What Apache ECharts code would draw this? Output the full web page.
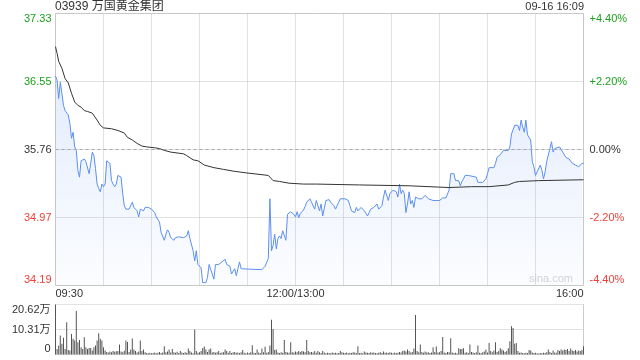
<!DOCTYPE html>
<html><head><meta charset="utf-8">
<script src="https://cdn.jsdelivr.net/npm/echarts@6/dist/echarts.min.js"></script>
<style>html,body{margin:0;padding:0;background:#fff}#c{width:640px;height:360px}</style>
</head><body><div id="c"></div>
<script>
const stockTitle = '03939 万国黄金集团';
const stampText = '09-16 16:09';
const watermark = 'sina.com';
const prevClose = 35.76;
const pctMin = -4.4, pctMax = 4.4, pctStep = 2.2;
const tradeMinutes = 330;
const timeTickMin = [0, 150, 330];
const timeTickLabels = ['09:30', '12:00/13:00', '16:00'];
const volMax = 20.62;

// trading-minute offsets from 09:30 (lunch break removed) and prices
const priceMin = [0,1,2,3,4,5,6,7,8,9,10,11,12,13,14,15,16,17,18,19,20,21,22,23,24,25,26,27,28,29,30,31,32,33,34,35,36,37,38,39,40,41,42,43,44,45,46,47,48,49,50,51,52,53,54,55,56,57,58,59,60,61,62,63,64,65,66,67,68,69,70,71,72,73,74,75,76,77,78,80,82,83,84,85,86,87,88,89,90,91,92,93,94,95,96,97,99,100,101,102,103,104,105,106,107,108,109,110,111,112,113,114,115,116,117,129,131,132,133,134,135,136,137,138,139,140,141,142,143,144,145,146,147,148,149,150,151,152,153,154,155,156,157,158,159,160,161,162,163,164,165,166,167,168,169,170,171,172,173,174,175,176,177,178,179,181,183,184,185,186,187,188,189,190,191,192,193,194,195,196,197,198,199,200,201,202,203,204,205,206,208,209,210,211,212,213,214,215,216,217,218,219,220,221,222,223,224,225,226,227,228,229,230,231,232,233,234,236,237,238,239,240,242,244,245,246,247,248,249,250,251,252,253,254,255,256,257,258,259,263,264,267,268,269,270,271,274,275,276,277,278,279,280,283,284,285,286,287,288,289,290,291,292,293,294,295,296,297,298,299,300,301,302,303,304,305,306,307,308,309,310,311,312,313,315,316,317,318,319,320,321,322,323,324,325,326,327,328,329,330];
const priceVal = [36.61,36.56,36.35,36.54,36.41,36.27,36.21,36.23,36.16,36.06,35.89,35.96,35.79,35.75,35.52,35.44,35.63,35.62,35.65,35.62,35.60,35.48,35.60,35.73,35.69,35.54,35.36,35.31,35.27,35.36,35.33,35.36,35.63,35.62,35.60,35.40,35.36,35.33,35.36,35.46,35.48,35.44,35.25,35.11,35.07,35.09,35.07,35.09,35.15,35.09,35.07,35.05,34.98,35.07,35.06,35.05,35.09,35.07,35.09,35.10,35.07,35.05,35.03,34.98,34.96,34.92,34.80,34.78,34.71,34.78,34.83,34.80,34.74,34.76,34.71,34.74,34.74,34.75,34.73,34.74,34.76,34.82,34.73,34.71,34.59,34.47,34.59,34.43,34.41,34.39,34.22,34.22,34.22,34.28,34.43,34.43,34.26,34.43,34.41,34.43,34.44,34.46,34.47,34.49,34.43,34.43,34.41,34.32,34.30,34.38,34.30,34.38,34.46,34.38,34.37,34.37,34.41,34.43,34.50,35.19,34.59,34.65,34.78,34.61,34.73,34.76,34.73,34.82,34.82,34.71,35.01,35.02,35.04,35.04,35.01,34.98,35.04,34.97,35.02,35.04,35.06,35.10,35.15,35.13,35.19,35.15,35.17,35.07,35.17,35.11,35.05,35.13,34.99,34.98,35.17,35.19,35.18,35.15,35.13,35.11,35.07,35.11,35.15,35.19,35.19,35.19,35.17,35.11,35.05,35.07,35.03,35.09,35.05,35.07,35.09,35.07,35.05,35.07,34.99,35.03,35.07,35.07,35.09,35.09,35.13,35.07,35.05,35.11,35.21,35.29,35.17,35.25,35.23,35.29,35.29,35.27,35.21,35.36,35.25,35.29,35.25,35.03,35.13,35.27,35.13,35.17,35.09,35.21,35.21,35.19,35.21,35.19,35.21,35.23,35.21,35.19,35.21,35.17,35.19,35.17,35.19,35.17,35.20,35.20,35.22,35.29,35.48,35.48,35.48,35.40,35.39,35.40,35.34,35.39,35.42,35.46,35.48,35.46,35.44,35.44,35.38,35.38,35.40,35.42,35.48,35.55,35.55,35.60,35.67,35.67,35.70,35.71,35.75,35.75,35.79,35.94,35.96,36.04,36.05,36.04,35.98,36.10,36.02,35.96,36.10,35.93,35.91,35.87,35.62,35.56,35.46,35.50,35.52,35.58,35.52,35.42,35.50,35.62,35.60,35.77,35.85,35.73,35.77,35.79,35.79,35.81,35.73,35.75,35.67,35.67,35.65,35.63,35.60,35.62,35.58,35.58,35.56,35.56,35.60,35.60];

// average price line
const avgMin = [0,1,2,4,5,6,7,8,10,12,14,16,18,20,23,24,26,28,30,35,39,43,45,48,51,54,57,62,65,68,72,76,80,82,86,89,93,99,105,111,119,133,136,140,146,155,163,190,221,246,260,271,283,287,290,302,330];
const avgVal = [36.95,36.87,36.78,36.70,36.68,36.58,36.57,36.53,36.41,36.31,36.27,36.25,36.21,36.20,36.18,36.16,36.10,36.04,36.01,36.00,35.98,35.95,35.90,35.87,35.83,35.80,35.79,35.78,35.77,35.75,35.73,35.72,35.71,35.69,35.64,35.63,35.58,35.55,35.53,35.51,35.49,35.46,35.40,35.39,35.37,35.36,35.36,35.35,35.34,35.32,35.33,35.33,35.35,35.38,35.39,35.40,35.41];

// per-minute volume, in 万 shares (index = trading minute)
const volVal = [
20.62,2.3,3.7,7.8,4.4,6.9,2.3,13.3,1.9,1.6,
8.5,6.5,5.8,17.9,5.1,6.0,3.0,2.3,7.1,3.0,
2.3,2.7,2.7,1.6,3.0,3.7,5.8,8.8,6.5,5.8,
3.0,1.6,1.0,0.8,1.2,0.9,1.4,1.1,1.3,1.4,
4.1,1.2,0.9,1.5,5.8,5.2,1.0,2.1,6.6,2.1,
1.4,0.8,1.2,5.8,1.4,2.1,0.9,0.6,0.5,0.7,
0.5,0.6,0.8,0.5,0.7,1.0,0.6,0.8,3.4,0.9,
1.2,2.1,0.8,2.3,0.9,0.7,1.1,0.6,1.4,0.8,
0.6,0.9,0.7,2.5,1.4,0.8,0.5,10.3,1.4,0.7,
0.9,1.4,2.7,3.3,2.1,1.0,2.1,2.5,0.8,1.0,
0.7,0.9,1.4,0.6,0.8,0.9,2.1,1.4,0.7,1.4,
0.6,0.9,1.0,0.7,0.8,0.6,0.9,1.9,0.7,0.5,
0.8,0.6,0.9,3.8,0.7,0.6,2.1,0.8,0.6,2.5,
0.9,3.2,0.7,1.0,3.7,14.3,10.5,1.9,2.1,0.8,
0.6,0.9,0.7,6.0,1.0,0.8,0.7,5.1,0.9,0.8,
1.2,0.9,1.4,1.0,1.4,1.2,0.9,6.0,1.4,0.9,
1.0,0.8,1.4,0.7,1.4,0.9,0.6,1.4,0.8,0.5,
0.7,0.6,0.5,0.8,0.6,0.7,0.5,0.6,1.4,0.9,
0.7,0.6,0.8,0.5,0.7,0.6,0.9,0.8,0.6,3.4,
0.6,0.7,0.5,1.2,0.8,0.7,0.6,0.9,0.7,0.8,
0.6,0.5,0.7,0.9,0.6,1.2,0.7,0.8,0.6,0.9,
0.7,0.5,0.8,0.6,0.7,1.0,0.8,1.4,1.6,1.2,
2.1,1.4,0.8,1.0,2.5,16.3,1.4,0.9,4.1,1.0,
0.7,1.2,0.8,0.9,0.6,0.8,3.0,1.0,3.3,0.8,
0.9,1.4,7.2,0.8,0.6,1.0,0.9,6.7,0.8,0.6,
0.7,0.5,2.6,2.3,2.3,2.6,0.7,0.9,0.6,4.1,
1.0,0.8,0.6,0.9,3.7,0.7,0.6,0.9,1.2,2.1,
0.8,4.7,1.4,0.9,1.6,5.1,1.0,1.4,2.6,2.1,
1.6,1.0,1.4,2.6,5.5,11.6,10.9,4.4,4.7,1.4,
0.7,0.8,0.6,0.5,0.7,0.6,1.9,1.6,0.8,0.6,
0.7,0.5,0.4,0.6,0.5,0.7,0.6,0.9,2.1,1.0,
0.6,1.6,0.8,0.7,1.9,1.4,2.1,1.6,2.1,1.9,
2.3,1.4,2.5,1.6,1.4,1.9,1.2,1.6,1.4,1.9,
3.4];

const FONT = '"Liberation Sans", Arial, "Noto Sans CJK SC", sans-serif';
const GREEN = '#1ea01e', RED = '#f0403a', DARK = '#333';
const GRIDC = '#c4c4c4';
const toPct = p => (p / prevClose - 1) * 100;
const colorFor = v => { v = Number(v); return Math.abs(v) < 1e-6 ? DARK : (v > 0 ? GREEN : RED); };

const priceData = priceMin.map((m, k) => [m, toPct(priceVal[k])]);
const avgData = avgMin.map((m, k) => [m, toPct(avgVal[k])]);
const volData = volVal.map((v, k) => [k, v]);

const G_LEFT = 55.5, G_WIDTH = 528;
const chart = echarts.init(document.getElementById('c'));
chart.setOption({
  animation: false,
  textStyle: { fontFamily: FONT },
  title: [
    { text: stockTitle, left: 55, top: 1, padding: 0,
      textStyle: { fontSize: 12, fontWeight: 'normal', color: '#333', fontFamily: FONT } },
    { text: stampText, right: 56, top: 1, padding: 0,
      textStyle: { fontSize: 11, fontWeight: 'normal', color: '#333', fontFamily: FONT } }
  ],
  graphic: [{ type: 'text', right: 67, top: 273, silent: true,
    style: { text: watermark, fill: '#d4d4d4', font: '11px ' + FONT } }],
  grid: [
    { left: G_LEFT, width: G_WIDTH, top: 13.5, height: 272, show: true, borderColor: '#ccc', borderWidth: 1 },
    { left: G_LEFT, width: G_WIDTH, top: 304.5, height: 50 }
  ],
  xAxis: [
    { type: 'value', gridIndex: 0, min: 0, max: tradeMinutes, interval: 30,
      axisLine: { show: false }, axisTick: { show: false },
      splitLine: { show: true, lineStyle: { color: GRIDC, type: 'dotted', width: 1 } },
      axisLabel: { fontSize: 11, color: '#333', margin: 3, hideOverlap: false,
        showMinLabel: true, showMaxLabel: true, alignMinLabel: 'left', alignMaxLabel: 'right',
        formatter: v => { const k = timeTickMin.indexOf(Math.round(v)); return k >= 0 ? timeTickLabels[k] : ''; } } },
    { type: 'value', gridIndex: 1, min: 0, max: tradeMinutes,
      axisLine: { show: false }, axisTick: { show: false }, axisLabel: { show: false }, splitLine: { show: false } }
  ],
  yAxis: [
    { type: 'value', gridIndex: 0, min: pctMin, max: pctMax, interval: pctStep, position: 'left',
      axisLine: { show: false }, axisTick: { show: false },
      splitLine: { show: true, lineStyle: { color: GRIDC, type: 'dotted' } },
      axisLabel: { fontSize: 11, margin: 4, color: v => colorFor(v),
        verticalAlignMinLabel: 'bottom', verticalAlignMaxLabel: 'top',
        formatter: v => (prevClose * (1 + v / 100)).toFixed(2) } },
    { type: 'value', gridIndex: 0, min: pctMin, max: pctMax, interval: pctStep, position: 'right',
      axisLine: { show: false }, axisTick: { show: false }, splitLine: { show: false },
      axisLabel: { fontSize: 11, margin: 6, color: v => colorFor(v),
        verticalAlignMinLabel: 'bottom', verticalAlignMaxLabel: 'top',
        formatter: v => (v > 1e-6 ? '+' : '') + Number(v).toFixed(2) + '%' } },
    { type: 'value', gridIndex: 1, min: 0, max: volMax, interval: volMax / 2, position: 'left',
      axisLine: { show: false }, axisTick: { show: false },
      splitLine: { show: true, lineStyle: { color: GRIDC, type: 'dotted' } },
      axisLabel: { fontSize: 11, margin: 5, color: '#333',
        verticalAlignMinLabel: 'bottom', verticalAlignMaxLabel: 'top',
        formatter: v => (Number(v) === 0 ? '0' : Number(v).toFixed(2) + '万') } },
    { type: 'value', gridIndex: 1, min: 0, max: volMax, position: 'right',
      axisLine: { show: true, lineStyle: { color: '#ccc' } }, axisTick: { show: false },
      axisLabel: { show: false }, splitLine: { show: false } }
  ],
  series: [
    { type: 'line', name: 'price', xAxisIndex: 0, yAxisIndex: 0, data: priceData,
      showSymbol: false, lineStyle: { color: '#5b8ff0', width: 1 },
      areaStyle: { origin: 'start', color: new echarts.graphic.LinearGradient(0, 0, 0, 1, [
        { offset: 0, color: 'rgba(91,143,240,0.24)' }, { offset: 1, color: 'rgba(91,143,240,0.03)' }]) },
      markLine: { silent: true, symbol: 'none', label: { show: false },
        lineStyle: { color: '#aaa', type: [3, 3], width: 1 }, data: [{ yAxis: toPct(prevClose) }] },
      z: 2 },
    { type: 'line', name: 'avg', xAxisIndex: 0, yAxisIndex: 0, data: avgData,
      showSymbol: false, lineStyle: { color: '#333', width: 1 }, z: 3 },
    { type: 'bar', name: 'vol', xAxisIndex: 1, yAxisIndex: 2, data: volData,
      barWidth: 1, itemStyle: { color: '#555' } }
  ]
});
</script></body></html>
